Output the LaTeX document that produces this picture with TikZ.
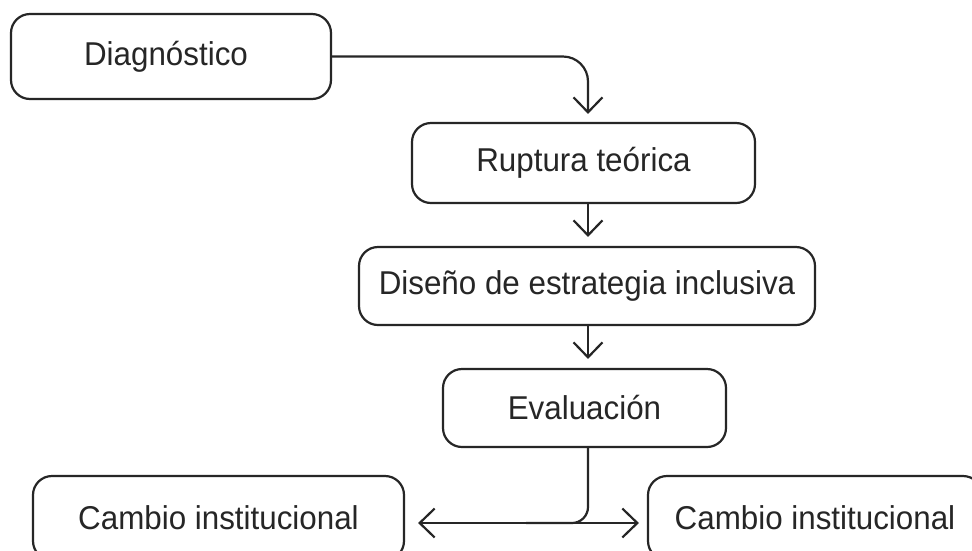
\documentclass[tikz,border=0pt]{standalone}
\usepackage{fontspec}
\setmainfont{Liberation Sans}[FakeStretch=0.95]
\usetikzlibrary{arrows.meta,calc}
\definecolor{ink}{HTML}{262626}
\tikzset{
  box/.style={draw=ink, line width=2.2pt, rounded corners=19pt, fill=white,
    text=ink, font=\fontsize{33}{38}\selectfont, inner sep=0pt, anchor=center},
  conn/.style={draw=ink, line width=2.2pt},
  tip/.style={-{Straight Barb[length=15pt,width=29pt,line width=2.2pt]}},
}
\begin{document}
\begin{tikzpicture}[x=1pt,y=-1pt]
\clip (0,0) rectangle (972,550);
\fill[white] (0,0) rectangle (972,550);
\coordinate (spine) at (588,0);
\node[box, minimum width=320pt, minimum height=85pt] (diag) at (171,56.5) {\hspace*{-10pt}Diagnóstico};
\node[box, minimum width=343pt, minimum height=80pt] (rup) at (583.5,163) {Ruptura teórica};
\node[box, minimum width=456pt, minimum height=78pt] (dis) at (587,286) {Diseño de estrategia inclusiva};
\node[box, minimum width=283pt, minimum height=78pt] (eva) at (584.5,408) {Evaluación};
\node[box, minimum width=371pt, minimum height=84pt] (cl) at (218.5,518) {Cambio institucional};
\node[box, minimum width=334pt, minimum height=84pt] (cr) at (815,518) {Cambio institucional};
\coordinate (hl) at ($(cl.east)!0.5!(cr.west)+(0,5)$);
\draw[conn, tip, rounded corners=25pt, shorten >=8pt] (diag.east) -| (spine |- rup.north);
\draw[conn, tip, shorten >=9pt] (spine |- rup.south) -- (spine |- dis.north);
\draw[conn, tip, shorten >=9pt] (spine |- dis.south) -- (spine |- eva.north);
\draw[conn, rounded corners=16pt] (spine |- eva.south) |- (hl);
\draw[conn, {Straight Barb[length=15pt,width=29pt,line width=2.2pt]}-{Straight Barb[length=15pt,width=29pt,line width=2.2pt]}, shorten <=13pt, shorten >=8pt] (cl.east |- hl) -- (cr.west |- hl);
\end{tikzpicture}
\end{document}
